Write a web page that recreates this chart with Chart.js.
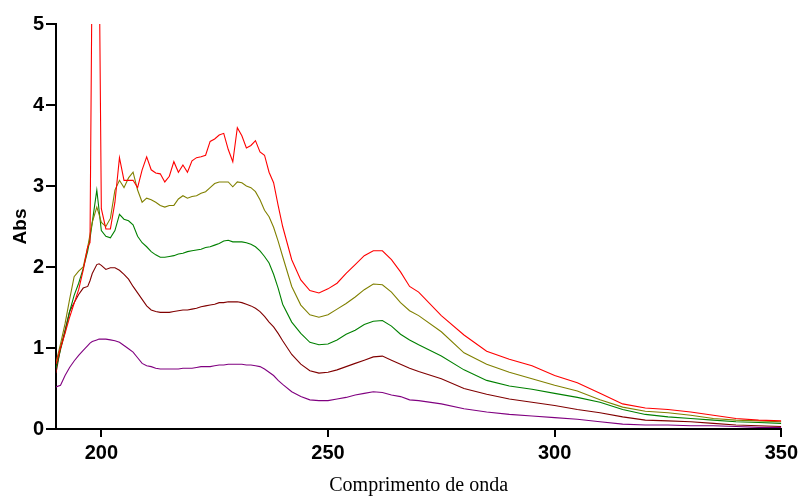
<!DOCTYPE html>
<html>
<head>
<meta charset="utf-8">
<script src="https://cdn.jsdelivr.net/npm/chart.js@4"></script>
<style>
  html, body { margin: 0; padding: 0; background: #fff; }
  #wrap { width: 802px; height: 496px; }
</style>
</head>
<body>
<div id="wrap"><canvas id="absChart" width="802" height="496"></canvas></div>
<script>
  // wavelengths (nm)
  const wavelengths = [
    190, 191, 192, 193, 194, 195, 196, 197, 197.5, 198, 199, 199.5,
    200, 201, 202, 203, 204, 205, 206, 207, 208, 209,
    210, 211, 212, 213, 214, 215, 216, 217, 218, 219,
    220, 221, 222, 223, 224, 225, 226, 227, 228, 229,
    230, 231, 232, 233, 234, 235, 236, 237, 238, 239,
    240, 242, 244, 246, 248, 250, 252, 254, 256, 258,
    260, 262, 264, 266, 268, 270, 275, 280, 285, 290,
    295, 300, 305, 310, 315, 320, 325, 330, 335, 340,
    345, 350
  ];

  const redValues = [
    0.80, 1.00, 1.18, 1.38, 1.55, 1.72, 1.96, 2.25, 2.30, 6.00, 6.00, 6.00,
    2.72, 2.47, 2.47, 2.80, 3.35, 3.07, 3.07, 3.07, 2.98, 3.20,
    3.36, 3.20, 3.16, 3.15, 3.05, 3.12, 3.30, 3.17, 3.26, 3.17,
    3.31, 3.35, 3.36, 3.38, 3.55, 3.58, 3.63, 3.65, 3.45, 3.30,
    3.72, 3.62, 3.47, 3.50, 3.56, 3.42, 3.38, 3.17, 3.04, 2.76,
    2.50, 2.09, 1.84, 1.71, 1.68, 1.73, 1.80, 1.92, 2.03, 2.14,
    2.20, 2.20, 2.09, 1.94, 1.76, 1.69, 1.40, 1.16, 0.96, 0.86,
    0.78, 0.66, 0.57, 0.44, 0.31, 0.26, 0.24, 0.21, 0.17, 0.13,
    0.11, 0.10
  ];

  const oliveValues = [
    0.82, 1.05, 1.30, 1.60, 1.88, 1.95, 2.00, 2.25, 2.40, 2.55, 2.74, 2.65,
    2.55, 2.50, 2.60, 2.95, 3.07, 2.98, 3.10, 3.17, 2.95, 2.80,
    2.85, 2.83, 2.80, 2.76, 2.74, 2.76, 2.76, 2.84, 2.88, 2.85,
    2.87, 2.88, 2.91, 2.93, 2.98, 3.03, 3.05, 3.05, 3.05, 2.99,
    3.05, 3.04, 3.00, 2.98, 2.93, 2.83, 2.70, 2.62, 2.49, 2.32,
    2.13, 1.76, 1.53, 1.41, 1.38, 1.41, 1.48, 1.55, 1.63, 1.72,
    1.79, 1.78, 1.69, 1.56, 1.46, 1.40, 1.20, 0.94, 0.80, 0.70,
    0.62, 0.54, 0.47, 0.36, 0.27, 0.22, 0.20, 0.17, 0.13, 0.11,
    0.10, 0.09
  ];

  const greenValues = [
    0.75, 0.98, 1.20, 1.45, 1.65, 1.80, 1.98, 2.20, 2.35, 2.55, 2.95, 2.70,
    2.45, 2.38, 2.36, 2.45, 2.65, 2.59, 2.57, 2.52, 2.38, 2.30,
    2.25, 2.19, 2.15, 2.12, 2.12, 2.13, 2.14, 2.16, 2.17, 2.19,
    2.20, 2.21, 2.22, 2.24, 2.25, 2.27, 2.29, 2.32, 2.33, 2.31,
    2.31, 2.31, 2.30, 2.28, 2.25, 2.20, 2.13, 2.05, 1.91, 1.74,
    1.54, 1.32, 1.18, 1.07, 1.04, 1.05, 1.10, 1.17, 1.22, 1.29,
    1.33, 1.34, 1.27, 1.17, 1.10, 1.04, 0.90, 0.73, 0.60, 0.53,
    0.49, 0.44, 0.39, 0.33, 0.24, 0.18, 0.15, 0.13, 0.11, 0.09,
    0.08, 0.07
  ];

  const maroonValues = [
    0.69, 1.00, 1.22, 1.45, 1.56, 1.66, 1.74, 1.76, 1.83, 1.92, 2.03, 2.04,
    2.02, 1.97, 1.99, 1.99, 1.96, 1.91, 1.85, 1.76, 1.68, 1.60,
    1.52, 1.47, 1.45, 1.44, 1.44, 1.44, 1.45, 1.46, 1.47, 1.47,
    1.48, 1.49, 1.51, 1.52, 1.53, 1.54, 1.56, 1.56, 1.57, 1.57,
    1.57, 1.56, 1.54, 1.52, 1.49, 1.45, 1.39, 1.32, 1.26, 1.18,
    1.09, 0.92, 0.80, 0.72, 0.69, 0.70, 0.73, 0.77, 0.81, 0.85,
    0.89, 0.90, 0.85, 0.80, 0.75, 0.71, 0.62, 0.50, 0.43, 0.37,
    0.33, 0.29, 0.24, 0.20, 0.15, 0.11, 0.10, 0.09, 0.07, 0.05,
    0.04, 0.03
  ];

  const purpleValues = [
    0.52, 0.54, 0.66, 0.76, 0.84, 0.91, 0.97, 1.03, 1.06, 1.08, 1.10, 1.11,
    1.11, 1.11, 1.10, 1.09, 1.07, 1.03, 0.99, 0.95, 0.88, 0.81,
    0.78, 0.77, 0.75, 0.74, 0.74, 0.74, 0.74, 0.74, 0.75, 0.75,
    0.75, 0.76, 0.77, 0.77, 0.77, 0.78, 0.79, 0.79, 0.80, 0.80,
    0.80, 0.80, 0.79, 0.79, 0.78, 0.77, 0.74, 0.70, 0.66, 0.60,
    0.55, 0.46, 0.40, 0.36, 0.35, 0.35, 0.37, 0.39, 0.42, 0.44,
    0.46, 0.45, 0.42, 0.40, 0.36, 0.35, 0.31, 0.25, 0.21, 0.18,
    0.16, 0.14, 0.12, 0.09, 0.06, 0.05, 0.05, 0.04, 0.04, 0.03,
    0.02, 0.02
  ];

  const xTicks = [200, 250, 300, 350];
  const yTicks = [0, 1, 2, 3, 4, 5];

  const seriesList = [
    { values: redValues, color: '#ff0000' },
    { values: oliveValues, color: '#808000' },
    { values: greenValues, color: '#008000' },
    { values: maroonValues, color: '#800000' },
    { values: purpleValues, color: '#800080' }
  ];

  const tickFont = { family: '"Liberation Sans", Arial, sans-serif', size: 20, weight: 'bold' };

  const ctx = document.getElementById('absChart').getContext('2d');
  const absChart = new Chart(ctx, {
    type: 'line',
    data: {
      datasets: seriesList.map(function (s) {
        return {
          data: wavelengths.map(function (w, i) { return { x: w, y: s.values[i] }; }),
          borderColor: s.color,
          borderWidth: 1.1,
          pointRadius: 0,
          tension: 0,
          fill: false
        };
      })
    },
    options: {
      responsive: false,
      animation: false,
      layout: { padding: { top: 24, right: 20, left: 0, bottom: 0 } },
      plugins: {
        legend: { display: false },
        tooltip: { enabled: false }
      },
      scales: {
        x: {
          type: 'linear',
          min: 190,
          max: 350,
          afterBuildTicks: function (scale) {
            scale.ticks = xTicks.map(function (v) { return { value: v }; });
          },
          afterFit: function (scale) { scale.height = 67; },
          border: { display: true, color: '#000', width: 2 },
          grid: { drawOnChartArea: false, drawTicks: true, tickLength: 8, color: '#000', lineWidth: 2 },
          ticks: { color: '#000', font: tickFont, padding: 4, maxRotation: 0 },
          title: {
            display: true,
            text: 'Comprimento de onda',
            color: '#000',
            font: { family: '"Liberation Serif", "Times New Roman", serif', size: 20, lineHeight: 1 },
            padding: { top: 0, bottom: 0 }
          }
        },
        y: {
          min: 0,
          max: 5,
          afterBuildTicks: function (scale) {
            scale.ticks = yTicks.map(function (v) { return { value: v }; });
          },
          afterFit: function (scale) { scale.width = 56; },
          border: { display: true, color: '#000', width: 2 },
          grid: { drawOnChartArea: false, drawTicks: true, tickLength: 10, color: '#000', lineWidth: 2 },
          ticks: { color: '#000', font: tickFont, padding: 2 },
          title: {
            display: true,
            text: 'Abs',
            color: '#000',
            font: { family: '"Liberation Sans", Arial, sans-serif', size: 19, weight: 'bold' },
            padding: { top: 9, bottom: 0 }
          }
        }
      }
    }
  });
</script>
</body>
</html>
